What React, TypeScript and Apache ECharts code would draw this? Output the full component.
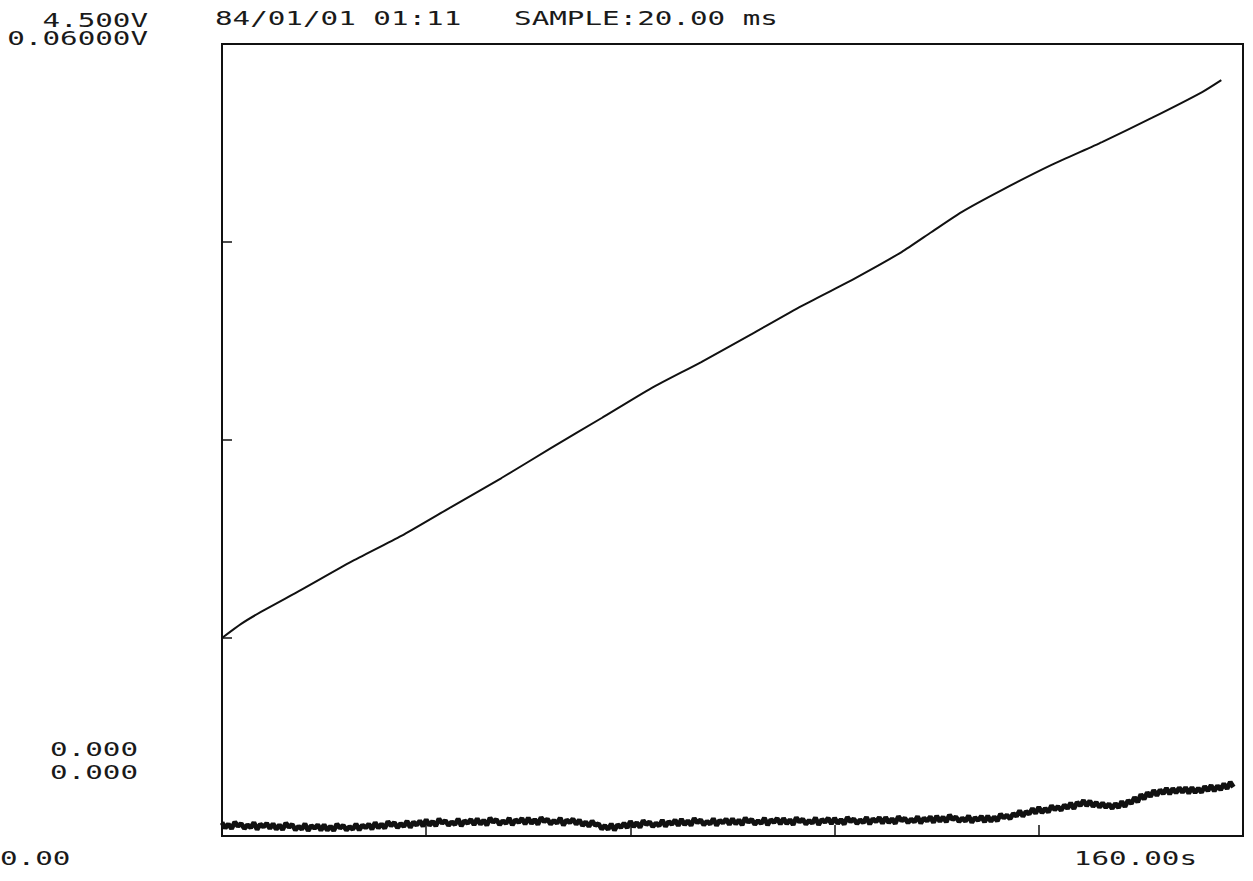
import React, { useEffect, useRef } from "react";
import * as echarts from "echarts";

// Upper channel: slow ramp, seconds / volts (full scale 4.500 V)
const rampTimes = [
  0, 3.0, 6.1, 12.4, 20.2, 28.1, 35.9, 43.8, 51.6, 59.5, 67.3, 75.1, 83.0,
  90.8, 98.7, 106.5, 111.2, 115.9, 122.2, 130.0, 137.9, 145.7, 153.6, 156.6,
];
const rampVolts = [
  1.125, 1.205, 1.273, 1.398, 1.557, 1.705, 1.869, 2.034, 2.205, 2.375, 2.545,
  2.693, 2.852, 3.011, 3.159, 3.318, 3.432, 3.545, 3.67, 3.813, 3.943, 4.08,
  4.227, 4.295,
];

// Lower channel: noisy trace, one reading every 0.5 s, in millivolts (full scale 60 mV)
const LOW_STEP_S = 0.5;
const lowTraceMv = [
  1.02, 0.6, 0.91, 0.55, 1.06, 0.74, 0.95, 0.56, 0.84, 0.63, 1.03, 0.5, 0.9, 0.68, 0.96, 0.57,
  0.93, 0.5, 0.84, 0.47, 0.98, 0.66, 0.88, 0.45, 0.74, 0.52, 0.92, 0.4, 0.8, 0.58, 0.85, 0.44,
  0.85, 0.43, 0.74, 0.4, 0.9, 0.6, 0.8, 0.44, 0.72, 0.5, 0.92, 0.45, 0.84, 0.62, 0.9, 0.52,
  1.03, 0.6, 0.92, 0.58, 1.1, 0.78, 1.02, 0.62, 0.95, 0.72, 1.14, 0.64, 1.06, 0.82, 1.15, 0.74,
  1.24, 0.8, 1.12, 0.76, 1.3, 0.96, 1.18, 0.8, 1.08, 0.86, 1.3, 0.76, 1.16, 0.96, 1.26, 0.84,
  1.32, 0.88, 1.2, 0.82, 1.36, 1.04, 1.26, 0.86, 1.16, 0.94, 1.36, 0.84, 1.24, 1.02, 1.34, 0.9,
  1.38, 0.94, 1.26, 0.88, 1.4, 1.08, 1.28, 0.9, 1.18, 0.96, 1.36, 0.82, 1.22, 1.0, 1.3, 0.88,
  1.22, 0.78, 1.08, 0.72, 1.14, 0.8, 0.94, 0.52, 0.8, 0.5, 0.92, 0.44, 0.86, 0.64, 0.98, 0.62,
  1.12, 0.7, 1.02, 0.64, 1.18, 0.86, 1.08, 0.7, 0.98, 0.76, 1.2, 0.72, 1.1, 0.88, 1.22, 0.78,
  1.28, 0.84, 1.16, 0.8, 1.34, 1.0, 1.22, 0.84, 1.12, 0.9, 1.32, 0.8, 1.2, 0.98, 1.3, 0.86,
  1.32, 0.9, 1.22, 0.84, 1.38, 1.04, 1.26, 0.88, 1.16, 0.94, 1.36, 0.84, 1.24, 1.02, 1.34, 0.9,
  1.34, 0.92, 1.24, 0.86, 1.4, 1.06, 1.28, 0.9, 1.18, 0.96, 1.38, 0.86, 1.26, 1.04, 1.36, 0.92,
  1.36, 0.94, 1.26, 0.88, 1.42, 1.08, 1.3, 0.94, 1.22, 1.0, 1.42, 0.9, 1.3, 1.08, 1.4, 0.96,
  1.42, 1.0, 1.32, 0.94, 1.48, 1.14, 1.36, 1.0, 1.28, 1.06, 1.48, 0.96, 1.36, 1.14, 1.46, 1.02,
  1.52, 1.1, 1.44, 1.06, 1.6, 1.24, 1.46, 1.08, 1.36, 1.12, 1.54, 1.02, 1.4, 1.18, 1.5, 1.06,
  1.52, 1.1, 1.46, 1.14, 1.66, 1.36, 1.58, 1.3, 1.7, 1.5, 1.92, 1.48, 1.86, 1.66, 2.08, 1.72,
  2.18, 1.76, 2.1, 1.8, 2.3, 1.98, 2.24, 1.94, 2.36, 2.08, 2.5, 2.06, 2.56, 2.3, 2.7, 2.28,
  2.66, 2.24, 2.56, 2.18, 2.5, 2.16, 2.44, 2.08, 2.46, 2.14, 2.62, 2.22, 2.7, 2.46, 2.92, 2.56,
  3.16, 2.78, 3.3, 2.98, 3.46, 3.06, 3.5, 3.2, 3.62, 3.18, 3.6, 3.26, 3.66, 3.3, 3.68, 3.24,
  3.68, 3.28, 3.62, 3.3, 3.76, 3.42, 3.84, 3.4, 3.8, 3.5, 3.96, 3.58, 4.08, 3.7,
];

// Axis ranges and printed scale texts
const X_MAX_S = 160;
const X_DIV = 5;
const UPPER_MAX_V = 4.5;
const LOWER_MAX_MV = 60;
const Y_DIV = 4;
const headerText = "84/01/01 01:11   SAMPLE:20.00 ms";
const topScaleLabels = ["4.500V", "0.06000V"];
const bottomScaleLabels = ["0.000", "0.000"];
const timeLabels = ["0.00", "160.00s"];

const FONT_FAMILY = '"DejaVu Sans Mono", "Liberation Mono", monospace';
const FONT_SIZE = 20;
const PITCH = 17.6;
const SCALE_X = PITCH / (0.602 * FONT_SIZE);
const INK = "#111";
const TEXT_INK = "#1a1a1a";

function plotterText(text: string, x: number, y: number, align: "left" | "right") {
  return {
    type: "text",
    x,
    y,
    scaleX: SCALE_X,
    silent: true,
    style: {
      text,
      fill: TEXT_INK,
      fontSize: FONT_SIZE,
      fontFamily: FONT_FAMILY,
      align,
      verticalAlign: "middle",
      textAlign: align,
      textVerticalAlign: "middle",
    },
  };
}

export default function App() {
  const ref = useRef<HTMLDivElement>(null);

  useEffect(() => {
    if (!ref.current) return;
    const chart = echarts.init(ref.current, undefined, { renderer: "svg" });

    const rampData = rampTimes.map((t, i) => [t, rampVolts[i]]);
    const lowData = lowTraceMv.map((v, i) => [i * LOW_STEP_S, v]);

    chart.setOption({
      animation: false,
      backgroundColor: "#fff",
      grid: {
        left: 222,
        top: 44,
        width: 1021,
        height: 792,
        show: true,
        borderColor: INK,
        borderWidth: 2,
        backgroundColor: "transparent",
      },
      xAxis: {
        type: "value",
        min: 0,
        max: X_MAX_S,
        interval: X_MAX_S / X_DIV,
        axisLine: { show: true, lineStyle: { color: INK, width: 2 } },
        axisTick: { show: true, inside: true, length: 11, lineStyle: { color: INK, width: 1.5 } },
        axisLabel: { show: false },
        splitLine: { show: false },
      },
      yAxis: [
        {
          type: "value",
          min: 0,
          max: UPPER_MAX_V,
          interval: UPPER_MAX_V / Y_DIV,
          position: "left",
          axisLine: { show: true, lineStyle: { color: INK, width: 2 } },
          axisTick: { show: true, inside: true, length: 10, lineStyle: { color: INK, width: 1.5 } },
          axisLabel: { show: false },
          splitLine: { show: false },
        },
        {
          type: "value",
          min: 0,
          max: LOWER_MAX_MV,
          position: "right",
          show: false,
          splitLine: { show: false },
        },
      ],
      series: [
        {
          type: "line",
          yAxisIndex: 0,
          data: rampData,
          showSymbol: false,
          silent: true,
          smooth: 0.2,
          lineStyle: { color: INK, width: 2 },
        },
        {
          type: "line",
          yAxisIndex: 1,
          data: lowData,
          showSymbol: false,
          silent: true,
          lineStyle: { color: INK, width: 4.8 },
        },
      ],
      graphic: [
        plotterText(headerText, 215, 18, "left"),
        plotterText(topScaleLabels[0], 148, 20, "right"),
        plotterText(topScaleLabels[1], 148, 38, "right"),
        plotterText(bottomScaleLabels[0], 138, 749, "right"),
        plotterText(bottomScaleLabels[1], 138, 772, "right"),
        plotterText(timeLabels[0], 0, 858, "left"),
        plotterText(timeLabels[1], 1197, 858, "right"),
      ],
    });

    return () => chart.dispose();
  }, []);

  return (
    <div
      ref={ref}
      style={{ position: "fixed", left: 0, top: 0, width: 1253, height: 881 }}
    />
  );
}
